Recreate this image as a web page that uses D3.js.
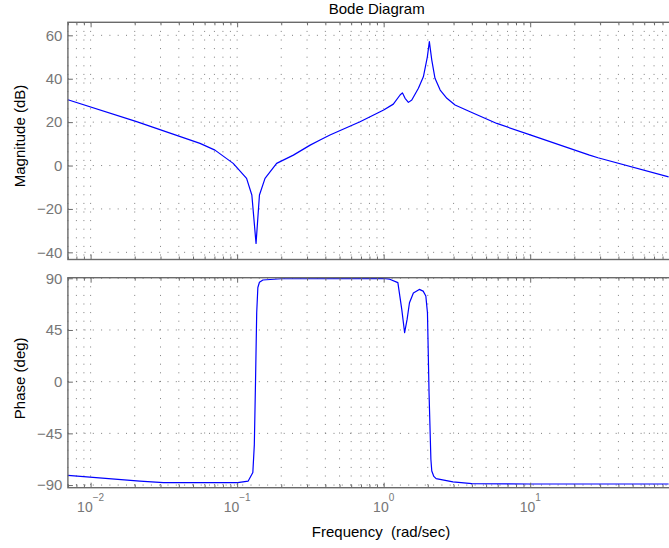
<!DOCTYPE html>
<html>
<head>
<meta charset="utf-8">
<script src="https://cdn.jsdelivr.net/npm/d3@7"></script>
<style>
  html, body { margin: 0; padding: 0; background: #fff; }
  svg { display: block; font-family: "Liberation Sans", Arial, Helvetica, sans-serif; }
</style>
</head>
<body>
<svg id="chart" width="669" height="548"></svg>
<script>
// Frequency response samples (rad/sec) and magnitude (dB)
const magFreq = [0.007, 0.0206, 0.0558, 0.0706, 0.094, 0.116, 0.126, 0.1346, 0.142, 0.155, 0.186,
  0.242, 0.315, 0.368, 0.43, 0.69, 1.0, 1.164, 1.294, 1.342, 1.40, 1.475, 1.556, 1.726, 1.866,
  1.987, 2.05, 2.13, 2.24, 2.43, 2.70, 3.07, 3.89, 5.92, 10.0, 25.4, 29.0, 88.0];
const magDb = [30.3, 20.2, 10.2, 7.1, 1.0, -5.9, -13.6, -35.9, -13.6, -5.9, 1.0,
  4.8, 9.4, 11.8, 14.1, 20.2, 25.6, 28.3, 32.5, 33.5, 31.0, 29.1, 30.2, 35.6, 40.9,
  50.1, 57.1, 48.6, 40.2, 34.8, 31.0, 27.9, 24.8, 19.4, 14.1, 4.8, 3.6, -5.2];

// Phase (deg)
const phaseFreq = [0.007, 0.0217, 0.0314, 0.101, 0.119, 0.128, 0.131, 0.1335, 0.136, 0.1385, 0.142,
  0.15, 0.2, 1.0, 1.1, 1.25, 1.329, 1.39, 1.445, 1.5, 1.595, 1.75, 1.86, 1.94, 1.99, 2.04, 2.10,
  2.13, 2.2, 2.28, 2.97, 4.0, 10.0, 88.0];
const phaseDeg = [-81.5, -86.5, -87.9, -87.9, -86.5, -79, -55, 0, 60, 82, 86.5,
  88.5, 89.6, 89.8, 89.2, 86.2, 62.9, 42.6, 54.2, 68.7, 77.2, 80.3, 78.8, 74.5, 60, -9.6, -67.6,
  -77.8, -82.5, -84.4, -87.3, -88.8, -89.1, -89.1];

// Tick values
const magTicks = [-40, -20, 0, 20, 40, 60];
const magTickLabels = ["\u221240", "\u221220", "0", "20", "40", "60"];
const phaseTicks = [-90, -45, 0, 45, 90];
const phaseTickLabels = ["\u221290", "\u221245", "0", "45", "90"];
const decadeTicks = [0.01, 0.1, 1, 10];
const decadeExponents = ["\u22122", "\u22121", "0", "1"];

const svg = d3.select("#chart");

const left = 67.9, right = 687;
const magTop = 22.3, magBottom = 259.5;
const phTop = 277.7, phBottom = 487.7;

const x = d3.scaleLog().domain([0.007, 117.5]).range([left, right]);
const yMag = d3.scaleLinear().domain([-43.3, 66.0]).range([magBottom, magTop]);
const yPh = d3.scaleLinear().domain([-92.3, 90.5]).range([phBottom, phTop]);

// minor log positions (1..9 per decade) inside the domain
const minorTicks = [];
for (let e = -3; e <= 2; e++) {
  for (let k = 1; k <= 9; k++) {
    const v = k * Math.pow(10, e);
    if (v >= 0.007 && v <= 117.5) minorTicks.push(v);
  }
}

const frameColor = "#6a6a6a";
const gridColor = "#555";

function panel(y, top, bottom, ticks, tickLabels, freq, vals, showX) {
  const g = svg.append("g");

  // vertical grid at every log position
  g.append("g").selectAll("line").data(minorTicks).join("line")
    .attr("x1", d => x(d)).attr("x2", d => x(d))
    .attr("y1", top).attr("y2", bottom)
    .attr("stroke", gridColor).attr("stroke-width", 1)
    .attr("stroke-dasharray", "1,7.6").attr("opacity", 0.75);

  // horizontal grid at major values
  g.append("g").selectAll("line").data(ticks).join("line")
    .attr("x1", left).attr("x2", right)
    .attr("y1", d => y(d)).attr("y2", d => y(d))
    .attr("stroke", gridColor).attr("stroke-width", 1)
    .attr("stroke-dasharray", "1,7.3").attr("opacity", 0.75);

  // response curve
  const line = d3.line().x((d, i) => x(freq[i])).y(d => y(d));
  g.append("path").datum(vals)
    .attr("d", line)
    .attr("fill", "none")
    .attr("stroke", "#0000ff")
    .attr("stroke-width", 1.2)
    .attr("stroke-linejoin", "round");

  // frame
  g.append("rect")
    .attr("x", left).attr("y", top)
    .attr("width", right - left).attr("height", bottom - top)
    .attr("fill", "none").attr("stroke", frameColor).attr("stroke-width", 1.4);

  // y axis (ticks pointing inward)
  const ya = g.append("g").attr("transform", `translate(${left},0)`)
    .call(d3.axisLeft(y).tickValues(ticks).tickSize(-5).tickPadding(5.5)
      .tickFormat((d, i) => tickLabels[i]));
  ya.select(".domain").remove();
  ya.selectAll("line").attr("stroke", frameColor);
  ya.selectAll("text").attr("fill", "#777").attr("font-size", 15)
    .attr("font-family", "Liberation Sans, Arial, sans-serif");

  // x ticks on bottom and top, major and minor, inward
  const minorOnly = minorTicks.filter(v => !decadeTicks.includes(v));
  const xb = g.append("g").attr("transform", `translate(0,${bottom})`)
    .call(d3.axisBottom(x).tickValues(minorOnly).tickSize(-3).tickFormat(""));
  xb.select(".domain").remove();
  xb.selectAll("line").attr("stroke", frameColor);
  const xt = g.append("g").attr("transform", `translate(0,${top})`)
    .call(d3.axisTop(x).tickValues(minorOnly).tickSize(-3).tickFormat(""));
  xt.select(".domain").remove();
  xt.selectAll("line").attr("stroke", frameColor);

  const xbm = g.append("g").attr("transform", `translate(0,${bottom})`)
    .call(d3.axisBottom(x).tickValues(decadeTicks).tickSize(-5).tickFormat(""));
  xbm.select(".domain").remove();
  xbm.selectAll("line").attr("stroke", frameColor);
  const xtm = g.append("g").attr("transform", `translate(0,${top})`)
    .call(d3.axisTop(x).tickValues(decadeTicks).tickSize(-5).tickFormat(""));
  xtm.select(".domain").remove();
  xtm.selectAll("line").attr("stroke", frameColor);

  if (showX) {
    const labels = g.append("g").selectAll("text").data(decadeTicks).join("text")
      .attr("x", d => x(d))
      .attr("y", bottom + 24)
      .attr("text-anchor", "middle")
      .attr("fill", "#777");
    labels.append("tspan").attr("font-size", 14).text("10");
    labels.append("tspan").attr("font-size", 10).attr("dy", -11)
      .text((d, i) => decadeExponents[i]);
  }
}

panel(yMag, magTop, magBottom, magTicks, magTickLabels, magFreq, magDb, false);
panel(yPh, phTop, phBottom, phaseTicks, phaseTickLabels, phaseFreq, phaseDeg, true);

// titles and axis labels
svg.append("text").attr("x", 376.7).attr("y", 13.5)
  .attr("text-anchor", "middle").attr("font-size", 15).attr("fill", "#000")
  .text("Bode Diagram");

svg.append("text").attr("x", 381).attr("y", 537)
  .attr("text-anchor", "middle").attr("font-size", 15).attr("fill", "#000")
  .style("white-space", "pre")
  .text("Frequency  (rad/sec)");

svg.append("text")
  .attr("transform", "translate(24.5,136) rotate(-90)")
  .attr("text-anchor", "middle").attr("font-size", 15).attr("fill", "#000")
  .text("Magnitude (dB)");

svg.append("text")
  .attr("transform", "translate(24.5,378.3) rotate(-90)")
  .attr("text-anchor", "middle").attr("font-size", 15).attr("fill", "#000")
  .text("Phase (deg)");
</script>
</body>
</html>
